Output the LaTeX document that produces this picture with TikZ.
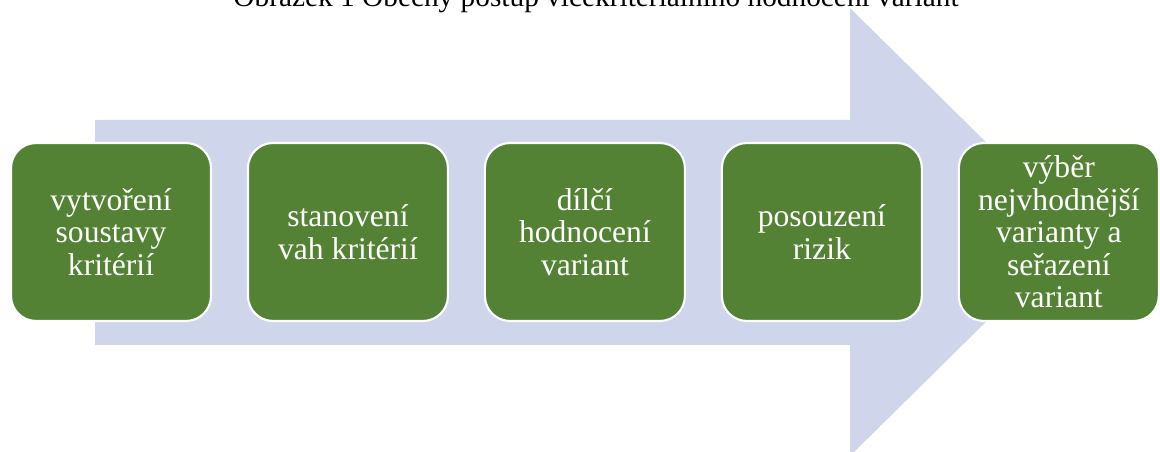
\documentclass[tikz,border=0pt]{standalone}
\usepackage{fontspec}
\setmainfont{Liberation Serif}
\usepackage{tikz}
\usetikzlibrary{positioning}
\definecolor{stepgreen}{RGB}{84,130,53}
\definecolor{arrowblue}{RGB}{207,213,234}

\begin{document}
\begin{tikzpicture}[
    x=0.02cm, y=-0.02cm,
    node distance=0.74cm,
    stepbox/.style={rectangle, draw=white, line width=1.2pt, fill=stepgreen, rounded corners=0.5cm, minimum width=4cm, minimum height=3.56cm, align=center, text=white, inner sep=0pt, outer sep=0pt, font=\fontsize{18}{18.5}\selectfont},
    caption/.style={anchor=base, inner sep=0pt, font=\fontsize{16.7}{20}\selectfont}
]
    \useasboundingbox (0,0) rectangle (1160,452);
    \clip (0,0) rectangle (1160,452);

    % big background arrow
    \fill[arrowblue] (95,120) -- (850,120) -- (850,8) -- (1077,232) -- (850,456) -- (850,345) -- (95,345) -- cycle;

    \node[caption] (cap) at (596,7) {Obrázek 1 Obecný postup vícekriteriálního hodnocení variant};

    \node[stepbox] (s1) at (111,232) {vytvoření\\soustavy\\kritérií};
    \node[stepbox, right=of s1] (s2) {stanovení\\vah kritérií};
    \node[stepbox, right=of s2] (s3) {dílčí\\hodnocení\\variant};
    \node[stepbox, right=of s3] (s4) {posouzení\\rizik};
    \node[stepbox, right=of s4] (s5) {výběr\\nejvhodnější\\varianty a\\seřazení\\variant};
\end{tikzpicture}
\end{document}
